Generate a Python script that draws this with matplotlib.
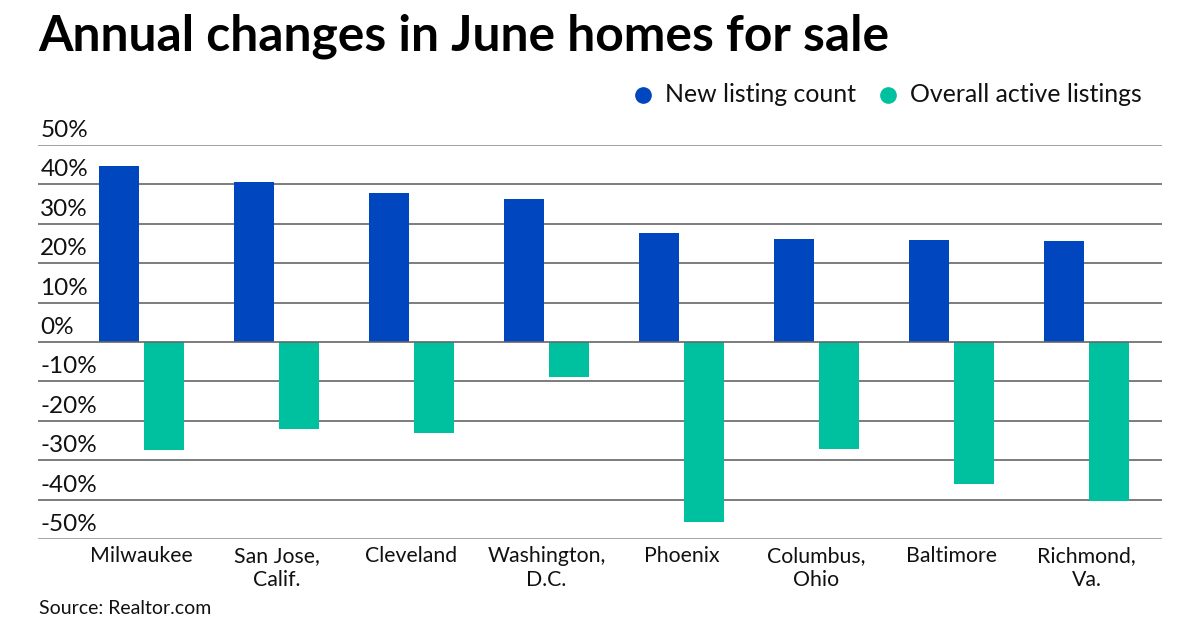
import matplotlib
matplotlib.use("Agg")
import matplotlib.pyplot as plt
import matplotlib.transforms as mtransforms
from matplotlib.lines import Line2D
import numpy as np

plt.rcParams['font.family'] = ['Lato', 'DejaVu Sans']

# Daten
cities = ["Milwaukee", "San Jose,\nCalif.", "Cleveland", "Washington,\nD.C.",
          "Phoenix", "Columbus,\nOhio", "Baltimore", "Richmond,\nVa."]
new_listings = [44.6, 40.6, 37.9, 36.3, 27.7, 26.1, 26.0, 25.6]
active_listings = [-27.5, -22.0, -23.2, -9.0, -45.7, -27.1, -36.1, -40.3]
yticks = [50, 40, 30, 20, 10, 0, -10, -20, -30, -40, -50]

blue = "#0046BE"
green = "#00C19F"

fig = plt.figure(figsize=(12, 6.3), dpi=100)
ax = fig.add_axes([38/1200, 1 - 539/630, 1124/1200, (539 - 145)/630])

x = np.arange(len(cities))
w = 0.296
ax.bar(x - 0.167, new_listings, w, color=blue, zorder=3)
ax.bar(x + 0.167, active_listings, w, color=green, zorder=3)

ax.set_xlim(-0.767, 7.559)
ax.set_ylim(-50, 50)

# Gitterlinien
for v in yticks:
    if v == -50:
        ax.axhline(v, color="#aaaaaa", lw=2.2, zorder=1)
    elif v == 50:
        ax.axhline(v, color="#999999", lw=1.3, zorder=1)
    else:
        ax.axhline(v, color="#666666", lw=1.2, zorder=4 if v == 0 else 1)

# y-Beschriftung über den Linien
trans = mtransforms.blended_transform_factory(ax.transAxes, ax.transData)
trans = mtransforms.offset_copy(trans, fig=fig, x=0, y=4, units='dots')
for v in yticks:
    ax.text(0.002, v, f"{v}%", transform=trans, ha="left", va="bottom",
            fontsize=17.5, color="#111111")

ax.set_yticks([])
ax.set_xticks(x)
ax.set_xticklabels(cities, fontsize=15.3, color="#111111", linespacing=1.25)
ax.tick_params(axis="x", length=0, pad=5)
for s in ax.spines.values():
    s.set_visible(False)

fig.text(38/1200, 1 - 36/630, "Annual changes in June homes for sale",
         fontsize=35.8, fontweight="bold", ha="left", va="center", color="#000000")

# Legende
fig.add_artist(Line2D([643/1200], [1 - 95/630], marker="o", markersize=11,
                      color=blue, transform=fig.transFigure))
fig.text(665/1200, 1 - 95/630, "New listing count", fontsize=17.9,
         ha="left", va="center", color="#111111")
fig.add_artist(Line2D([888/1200], [1 - 95/630], marker="o", markersize=11,
                      color=green, transform=fig.transFigure))
fig.text(910/1200, 1 - 95/630, "Overall active listings", fontsize=17.9,
         ha="left", va="center", color="#111111")

fig.text(39/1200, 1 - 608/630, "Source: Realtor.com", fontsize=14,
         ha="left", va="center", color="#111111")

fig.savefig("out.png", dpi=100)
